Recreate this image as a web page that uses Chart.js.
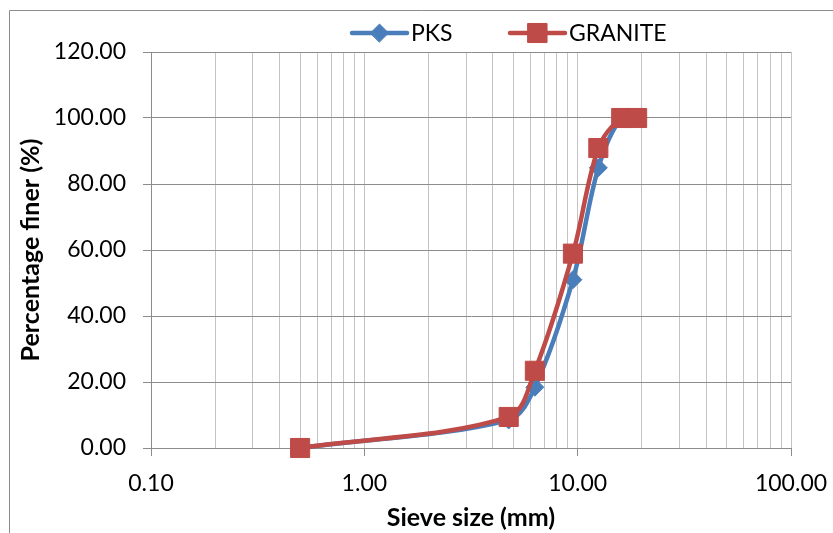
<!DOCTYPE html>
<html>
<head>
<meta charset="utf-8">
<script src="https://cdn.jsdelivr.net/npm/chart.js@4"></script>
<style>
  html, body { margin:0; padding:0; background:#fff; }
  #wrap { width:833px; height:533px; position:relative; }
</style>
</head>
<body>
<div id="wrap"><canvas id="chart-grading" width="833" height="533"></canvas></div>
<script>
// sieve analysis data
const sieveSizes = [0.5, 4.75, 6.3, 9.5, 12.5, 16, 19];
const pksFiner = [0, 8.5, 18.4, 51.0, 84.9, 100, 100];
const graniteFiner = [0, 9.4, 23.4, 58.9, 90.9, 100, 100];
const seriesNames = ['PKS', 'GRANITE'];
const decades = [0.1, 1, 10, 100];

const BLUE = '#4A7EBB', RED = '#BE4B48';
const GRID_DARK = '#8c8c8c', GRID_LIGHT = '#c4c4c4';

// log gridlines: 1..9 within each decade
const xTicks = [];
decades.slice(0, -1).forEach(d => { for (let k = 1; k < 10; k++) xTicks.push(+(d * k).toFixed(4)); });
xTicks.push(decades[decades.length - 1]);
const isDecade = v => decades.some(d => Math.abs(d - v) < 1e-9);

const pts = ys => sieveSizes.map((x, i) => ({ x, y: ys[i] }));

Chart.defaults.font.family = 'Lato';
Chart.defaults.font.size = 23;
Chart.defaults.color = '#000';

// excel-style outer frame
const frame = {
  id: 'frame',
  beforeDraw(c){
    const ctx = c.ctx;
    ctx.save();
    ctx.strokeStyle = GRID_DARK; ctx.lineWidth = 1;
    ctx.beginPath();
    ctx.moveTo(9.5, c.height); ctx.lineTo(9.5, 10.5); ctx.lineTo(c.width, 10.5);
    ctx.stroke();
    ctx.restore();
  }
};

// legend: line segment with marker, then name
const legendLine = {
  id: 'legendLine',
  afterDraw(c){
    const ctx = c.ctx;
    const items = [
      { ds: c.data.datasets[0], x0: 352, x1: 407, tx: 411 },
      { ds: c.data.datasets[1], x0: 510, x1: 565, tx: 569 }
    ];
    const y = 33;
    ctx.save();
    items.forEach(it => {
      ctx.strokeStyle = it.ds.borderColor; ctx.lineWidth = it.ds.borderWidth; ctx.lineCap = 'round';
      ctx.beginPath(); ctx.moveTo(it.x0, y); ctx.lineTo(it.x1, y); ctx.stroke();
      ctx.fillStyle = it.ds.pointBackgroundColor; ctx.strokeStyle = it.ds.pointBorderColor; ctx.lineWidth = 1;
      Chart.helpers.drawPoint(ctx, { pointStyle: it.ds.pointStyle, radius: it.ds.pointRadius, rotation: 0, borderWidth: 1 }, (it.x0 + it.x1) / 2, y);
      ctx.fillStyle = '#000'; ctx.font = '23px Lato'; ctx.textBaseline = 'middle'; ctx.textAlign = 'left';
      ctx.fillText(it.ds.label, it.tx, y + 1);
    });
    ctx.restore();
  }
};

new Chart(document.getElementById('chart-grading'), {
  type: 'scatter',
  data: {
    datasets: [
      { label: seriesNames[0], data: pts(pksFiner), showLine: true, order: 2, clip: false,
        borderColor: BLUE, borderWidth: 4.5, tension: 0.33,
        pointStyle: 'rectRot', pointRadius: 9, pointBackgroundColor: BLUE, pointBorderColor: BLUE, pointBorderWidth: 1 },
      { label: seriesNames[1], data: pts(graniteFiner), showLine: true, order: 1, clip: false,
        borderColor: RED, borderWidth: 4.5, tension: 0.33,
        pointStyle: 'rect', pointRadius: 13.5, pointBackgroundColor: RED, pointBorderColor: RED, pointBorderWidth: 1 }
    ]
  },
  options: {
    responsive: false, animation: false,
    layout: { padding: { top: 52, right: 42, left: 0, bottom: 0 } },
    plugins: { legend: { display: false }, tooltip: { enabled: false } },
    scales: {
      x: {
        type: 'logarithmic', min: 0.1, max: 100,
        afterFit: s => { s.height = 85; s.paddingLeft = 0; s.paddingRight = 0; },
        afterBuildTicks: s => { s.ticks = xTicks.map(v => ({ value: v })); },
        ticks: { autoSkip: false, maxRotation: 0, padding: 14,
          callback: v => isDecade(v) ? Number(v).toFixed(2) : '' },
        grid: { color: GRID_LIGHT, tickLength: 8,
          tickColor: c => (c.tick && isDecade(c.tick.value)) ? GRID_DARK : 'rgba(0,0,0,0)' },
        border: { color: GRID_DARK },
        title: { display: true, text: 'Sieve size (mm)', font: { size: 25, weight: 'bold' }, padding: { top: 3, bottom: 0 } }
      },
      y: {
        min: 0, max: 120,
        afterFit: s => { s.width = 151; },
        ticks: { stepSize: 20, padding: 17, callback: v => Number(v).toFixed(2) },
        grid: { color: GRID_DARK, tickLength: 8, tickColor: GRID_DARK },
        border: { color: GRID_DARK },
        title: { display: true, text: 'Percentage finer (%)', font: { size: 25, weight: 'bold' }, padding: { top: 16, bottom: 0 } }
      }
    }
  },
  plugins: [frame, legendLine]
});
</script>
</body>
</html>
